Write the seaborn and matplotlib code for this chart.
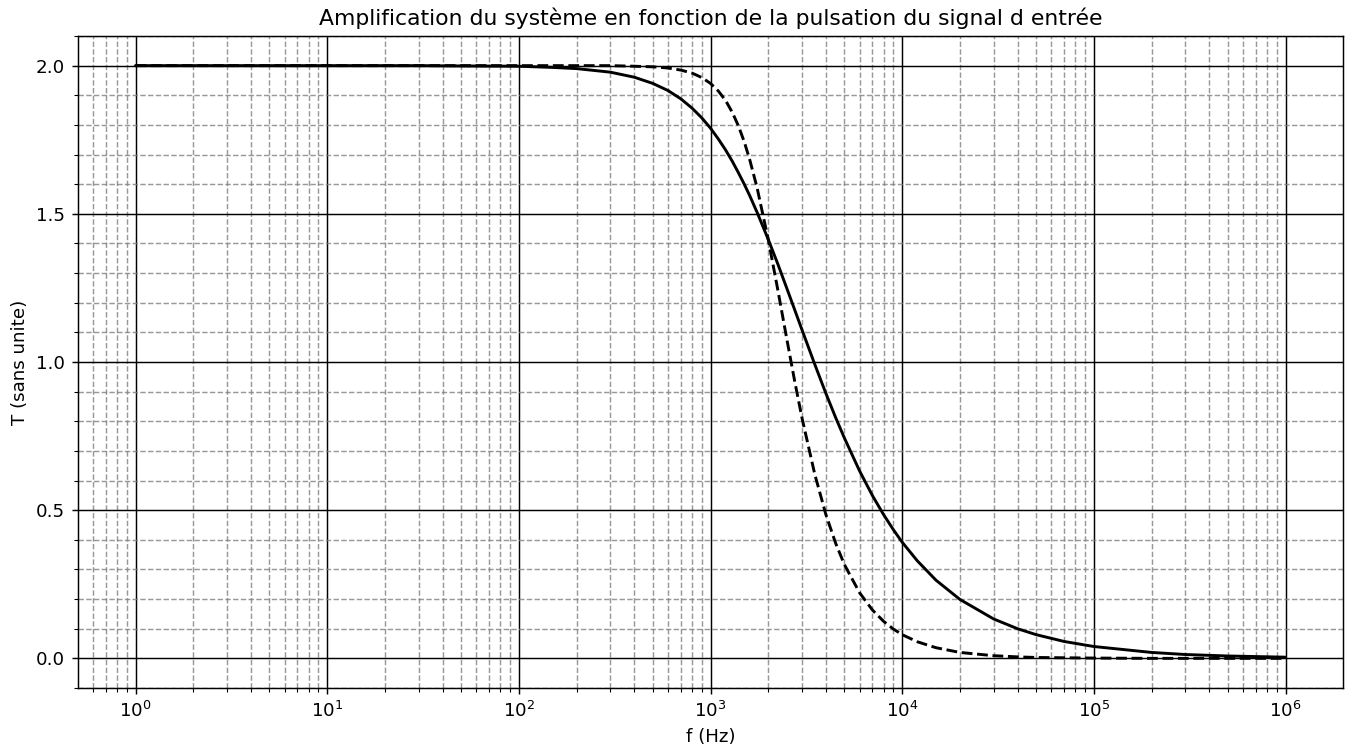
import numpy as np
import pandas as pd
import matplotlib
matplotlib.use("Agg")
import matplotlib.pyplot as plt
import seaborn as sns

# Frequencies (Hz) and values
freq = [1, 10, 30, 50, 100, 150, 200, 300, 400, 500,
        600, 700, 800, 900, 1000, 1100, 1200, 1300, 1400, 1500,
        1600, 1750, 2000, 2250, 2500, 2750, 3000, 3500, 4000, 4500,
        5000, 6000, 7000, 8000, 9000, 10000, 12000, 15000, 20000, 30000,
        40000, 50000, 70000, 100000, 200000, 300000, 500000, 1000000]
t_solid = [2.0, 2.0, 2.0, 1.999, 1.998, 1.994, 1.990, 1.978, 1.961, 1.940,
           1.916, 1.888, 1.857, 1.824, 1.789, 1.752, 1.715, 1.677, 1.638, 1.600,
           1.562, 1.505, 1.414, 1.329, 1.249, 1.176, 1.109, 0.992, 0.894, 0.812,
           0.743, 0.632, 0.549, 0.485, 0.434, 0.392, 0.329, 0.264, 0.199, 0.133,
           0.100, 0.080, 0.057, 0.040, 0.020, 0.013, 0.008, 0.004]
t_dashed = [2.0, 2.0, 2.0, 2.0, 2.0, 2.0, 2.0, 2.0, 1.998, 1.996,
            1.992, 1.985, 1.975, 1.960, 1.940, 1.914, 1.882, 1.842, 1.796, 1.743,
            1.684, 1.588, 1.414, 1.240, 1.078, 0.935, 0.812, 0.621, 0.485, 0.388,
            0.316, 0.221, 0.163, 0.125, 0.099, 0.080, 0.056, 0.036, 0.020, 0.009,
            0.005, 0.003, 0.002, 0.001, 0.0, 0.0, 0.0, 0.0]

df = pd.DataFrame({"f": freq, "solid": t_solid, "dashed": t_dashed})

sns.set_style("white")
plt.rcParams.update({"text.color": "black", "axes.labelcolor": "black",
                     "xtick.color": "black", "ytick.color": "black"})

DPI = 131.25
fig = plt.figure(figsize=(1346 / DPI, 749 / DPI), dpi=DPI)
ax = fig.add_axes([78 / 1346, 1 - 688 / 749, (1343 - 78) / 1346, (688 - 36) / 749])

sns.lineplot(data=df, x="f", y="solid", color="black", linewidth=1.6, ax=ax)
sns.lineplot(data=df, x="f", y="dashed", color="black", linewidth=1.6,
             linestyle="--", ax=ax)

ax.set_xscale("log")
ax.margins(x=0.05, y=0.05)
ax.xaxis.set_minor_formatter(matplotlib.ticker.NullFormatter())
ax.yaxis.set_major_locator(matplotlib.ticker.MultipleLocator(0.5))
ax.yaxis.set_major_formatter(matplotlib.ticker.FormatStrFormatter("%.1f"))
ax.yaxis.set_minor_locator(matplotlib.ticker.MultipleLocator(0.1))
ax.grid(which="major", color="black", linestyle="-", linewidth=0.8)
ax.grid(which="minor", color="grey", linestyle="--", linewidth=0.8, alpha=0.8)
ax.tick_params(which="both", direction="out", left=True, bottom=True, color="black",
               labelsize=10)
ax.tick_params(which="major", length=3.5, width=0.8)
ax.tick_params(which="minor", length=2, width=0.6)
for s in ax.spines.values():
    s.set_color("black")
    s.set_linewidth(0.8)

ax.set_title("Amplification du système en fonction de la pulsation du signal d entrée",
             fontsize=12)
ax.set_xlabel("f (Hz)", fontsize=10)
ax.set_ylabel("T (sans unite)", fontsize=10)

fig.savefig("out.png", dpi=DPI)
